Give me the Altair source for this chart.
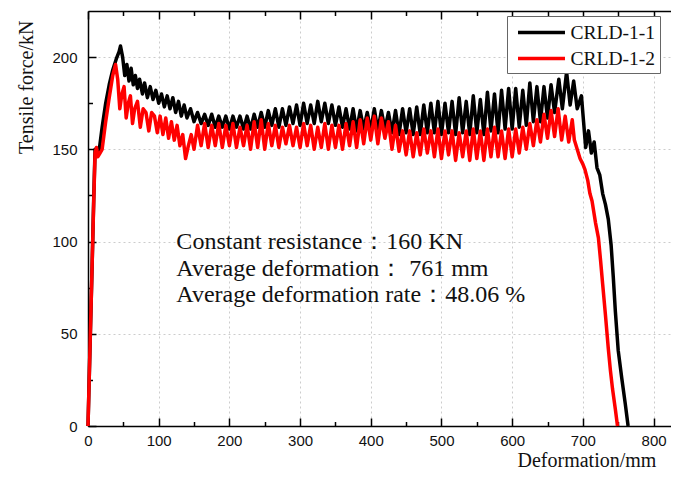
import altair as alt
import pandas as pd

series_names = ["CRLD-1-1", "CRLD-1-2"]
series_colors = ["#000000", "#ff0000"]

# CRLD-1-1 (black)
black_x = [0, 3, 6, 8, 10, 13, 16, 20, 25, 30, 35, 40, 44, 46, 49, 52, 55, 58, 61, 64,
           67, 70, 73, 77, 80, 84, 88, 92, 96, 100, 104, 108, 112, 116, 120, 124, 128, 132, 136,
           140, 145, 150, 155, 160, 165, 170, 175, 180, 185, 190, 195, 200, 205, 210, 215, 220,
           225, 230, 235, 240, 245, 250, 255, 260, 265, 270, 275, 280, 285, 290, 295, 300, 305,
           310, 315, 320, 325, 330, 335, 340, 345, 350, 355, 360, 365, 370, 375, 380, 385, 390,
           395, 400, 405, 410, 415, 420, 425, 430, 435, 440, 445, 450, 455, 460, 465, 470, 475,
           480, 485, 490, 495, 500, 505, 510, 515, 520, 525, 530, 535, 540, 545, 550, 555, 560,
           565, 570, 575, 580, 585, 590, 595, 600, 605, 610, 615, 620, 625, 630, 635, 640, 645, 650,
           655, 660, 666, 671, 677, 682, 687, 692, 698, 701, 704, 708, 712, 716, 720, 724, 728,
           732, 736, 740, 743, 746, 750, 755, 760, 764]
black_y = [0, 45, 90, 122, 150, 147, 150, 162, 175, 185, 193, 199, 203, 206, 200, 190, 196, 187, 194, 185,
           190, 183, 188, 180, 186, 178, 184, 177, 182, 175, 180, 173, 179, 172, 178, 170, 176, 168, 174,
           167, 172, 165, 170, 164, 169, 163, 169, 162, 168, 162, 168, 161, 168, 162, 168, 161,
           168, 161, 169, 162, 170, 162, 171, 163, 172, 162, 172, 163, 173, 164, 174, 163, 175,
           164, 174, 164, 176, 165, 175, 164, 174, 163, 173, 162, 172, 161, 172, 160, 171, 161,
           170, 160, 172, 160, 171, 161, 170, 159, 171, 158, 172, 159, 172, 158, 173, 158, 174,
           159, 175, 159, 176, 158, 175, 159, 176, 158, 178, 159, 176, 158, 179, 159, 177, 158,
           181, 160, 180, 159, 182, 161, 183, 161, 183, 162, 182, 163, 186, 165, 184, 165, 184, 167,
           185, 170, 188, 172, 192, 174, 187, 172, 179, 165, 151, 160, 148, 154, 140, 136, 126,
           120, 112, 98, 81, 62, 41, 26, 12, 0]

# CRLD-1-2 (red)
red_x = [0, 3, 6, 8, 10, 12, 14, 17, 20, 25, 30, 35, 39, 42, 45, 48, 51, 54, 57, 60,
         63, 66, 70, 74, 78, 82, 86, 90, 94, 98, 102, 106, 110, 114, 118, 122, 126, 130, 134, 138,
         142, 146,
         150, 155, 160, 165, 170, 175, 180, 185, 190, 195, 200, 205, 210, 215, 220, 225, 230, 235,
         240, 245, 250, 255, 260, 265, 270, 275, 280, 285, 290, 295, 300, 305, 310, 315, 320, 325,
         330, 335, 340, 345, 350, 355, 360, 365, 370, 375, 380, 385, 390, 395, 400, 405, 410, 415,
         420, 425, 430, 435, 440, 445, 450, 455, 460, 465, 470, 475, 480, 485, 490, 495, 500, 505,
         510, 515, 520, 525, 530, 535, 540, 545, 550, 555, 560, 565, 570, 575, 580, 585, 590, 595,
         600, 605, 610, 615, 620, 625, 630, 635, 640, 645, 650, 655, 660, 665, 670, 675, 680, 685,
         688, 692, 696, 700, 703, 707, 710, 713, 718, 722, 725, 728, 732, 736, 739, 742, 746, 749]
red_y = [0, 45, 90, 120, 148, 151, 146, 148, 150, 165, 178, 190, 196, 188, 172, 180, 184, 167, 175, 179,
         164, 172, 176, 162, 172, 170, 160, 170, 168, 159, 168, 158, 167, 156, 165, 155, 163, 152, 158, 145,
         152, 158,
         150, 163, 152, 164, 151, 163, 152, 164, 151, 163, 152, 164, 151, 162, 152, 163, 150, 165,
         151, 166, 150, 164, 152, 163, 151, 162, 153, 163, 152, 162, 151, 164, 152, 163, 150, 162,
         151, 164, 150, 163, 151, 163, 150, 164, 152, 165, 151, 166, 153, 167, 155, 168, 153, 167,
         156, 165, 150, 163, 149, 160, 147, 160, 146, 159, 147, 161, 148, 160, 146, 161, 145, 160,
         147, 160, 144, 159, 146, 160, 144, 161, 145, 160, 144, 161, 146, 162, 146, 160, 145, 161,
         146, 161, 148, 162, 150, 164, 152, 166, 154, 169, 156, 171, 157, 172, 155, 168, 154, 166,
         155, 150, 145, 142, 139, 133, 126, 122, 110, 102, 90, 77, 60, 42, 30, 20, 9, 0]

assert len(black_x) == len(black_y), (len(black_x), len(black_y))
assert len(red_x) == len(red_y), (len(red_x), len(red_y))

x_major = [0, 100, 200, 300, 400, 500, 600, 700, 800]
x_minor = [50, 150, 250, 350, 450, 550, 650, 750]
y_major = [0, 50, 100, 150, 200]
y_minor = [25, 75, 125, 175]

note_lines = ["Constant resistance：160 KN",
              "Average deformation：  761 mm",
              "Average deformation rate：48.06 %"]
note_x = [125, 125, 125]
note_y = [95.7, 81.3, 67.2]

df = pd.concat([
    pd.DataFrame({"x": black_x, "y": black_y, "series": series_names[0],
                  "order": list(range(len(black_x)))}),
    pd.DataFrame({"x": red_x, "y": red_y, "series": series_names[1],
                  "order": list(range(len(red_x)))}),
], ignore_index=True)
notes = pd.DataFrame({"x": note_x, "y": note_y, "t": note_lines})

xs = alt.Scale(domain=[0, 836], nice=False, zero=False)
ys = alt.Scale(domain=[0, 225], nice=False, zero=False)

x_main = alt.Axis(orient="bottom", values=x_major, ticks=False, domain=True, domainColor="#000",
                  domainWidth=1.5, grid=True, gridColor="#cccccc", gridDash=[2, 3], gridWidth=1,
                  labelFont="Liberation Sans", labelFontSize=15, labelColor="#111", labelPadding=7,
                  labelFlush=False, labelOverlap=False, format="d",
                  title="Deformation/mm", titleFont="Liberation Serif", titleFontSize=20,
                  titleFontWeight="normal", titleColor="#111", titleAlign="left",
                  titleBaseline="alphabetic", titleX=429, titleY=40)
y_main = alt.Axis(orient="left", values=y_major, ticks=False, domain=True, domainColor="#000",
                  domainWidth=1.5, grid=True, gridColor="#cccccc", gridDash=[2, 3], gridWidth=1,
                  labelFont="Liberation Sans", labelFontSize=15, labelColor="#111", labelPadding=11,
                  labelFlush=False, labelOverlap=False, format="d",
                  title="Tensile force/kN", titleFont="Liberation Serif", titleFontSize=20,
                  titleFontWeight="normal", titleColor="#111", titleAngle=270, titleAlign="right",
                  titleBaseline="alphabetic", titleX=-56, titleY=9)


def tick_axis(orient, vals, size, domain=False):
    return alt.Axis(orient=orient, values=vals, labels=False, domain=domain, domainColor="#000",
                    domainWidth=1.5, grid=False, ticks=True, tickSize={"expr": str(-size)},
                    tickColor="#000", tickWidth=1.5, title=None)


legend = alt.Legend(title=None, orient="none", legendX=419, legendY=5,
                    symbolType="M-2.5,0H2.5", symbolSize=353, symbolStrokeWidth=3.5,
                    symbolOffset=18, labelOffset=17.5, labelFont="Liberation Serif",
                    labelFontSize=19.5, labelColor="#111", padding=5, strokeColor="#666",
                    fillColor="#ffffff", rowPadding=5, labelLimit=300)

lines = alt.Chart(df).mark_line(strokeWidth=3.5, strokeJoin="round").encode(
    x=alt.X("x:Q", scale=xs, axis=x_main),
    y=alt.Y("y:Q", scale=ys, axis=y_main),
    color=alt.Color("series:N", scale=alt.Scale(domain=series_names, range=series_colors),
                    legend=legend),
    order="order:Q",
)

ticks_major = alt.Chart(df).mark_point(opacity=0).encode(
    x=alt.X("x:Q", scale=xs, axis=tick_axis("bottom", x_major, 8)),
    y=alt.Y("y:Q", scale=ys, axis=tick_axis("left", y_major, 8)),
)
ticks_minor = alt.Chart(df).mark_point(opacity=0).encode(
    x=alt.X("x:Q", scale=xs, axis=tick_axis("bottom", x_minor, 4.5)),
    y=alt.Y("y:Q", scale=ys, axis=tick_axis("left", y_minor, 4.5)),
)
top_major = alt.Chart(df).mark_point(opacity=0).encode(
    x=alt.X("x:Q", scale=xs, axis=tick_axis("top", x_major, 8, domain=True)),
    y=alt.Y("y:Q", scale=ys, axis=None),
)
top_minor = alt.Chart(df).mark_point(opacity=0).encode(
    x=alt.X("x:Q", scale=xs, axis=tick_axis("top", x_minor, 4.5)),
    y=alt.Y("y:Q", scale=ys, axis=None),
)
text = alt.Chart(notes).mark_text(align="left", baseline="alphabetic", font="Liberation Serif",
                                  fontSize=24, color="#111").encode(
    x=alt.X("x:Q", scale=xs, axis=None),
    y=alt.Y("y:Q", scale=ys, axis=None),
    text="t:N",
)

# the plot area runs past the right edge of the picture, as in the reference
chart = alt.layer(lines, ticks_major, ticks_minor, top_major, top_minor, text).resolve_axis(
    x="independent", y="independent"
).properties(
    width=591, height=415,
    autosize=alt.AutoSizeParams(type="none"),
    padding={"left": 80, "top": 3, "right": -8, "bottom": 44},
    background="#ffffff",
).configure_view(stroke="#ffffff", strokeWidth=1)

chart.save("out.html", embed_options={"renderer": "svg", "actions": False})
